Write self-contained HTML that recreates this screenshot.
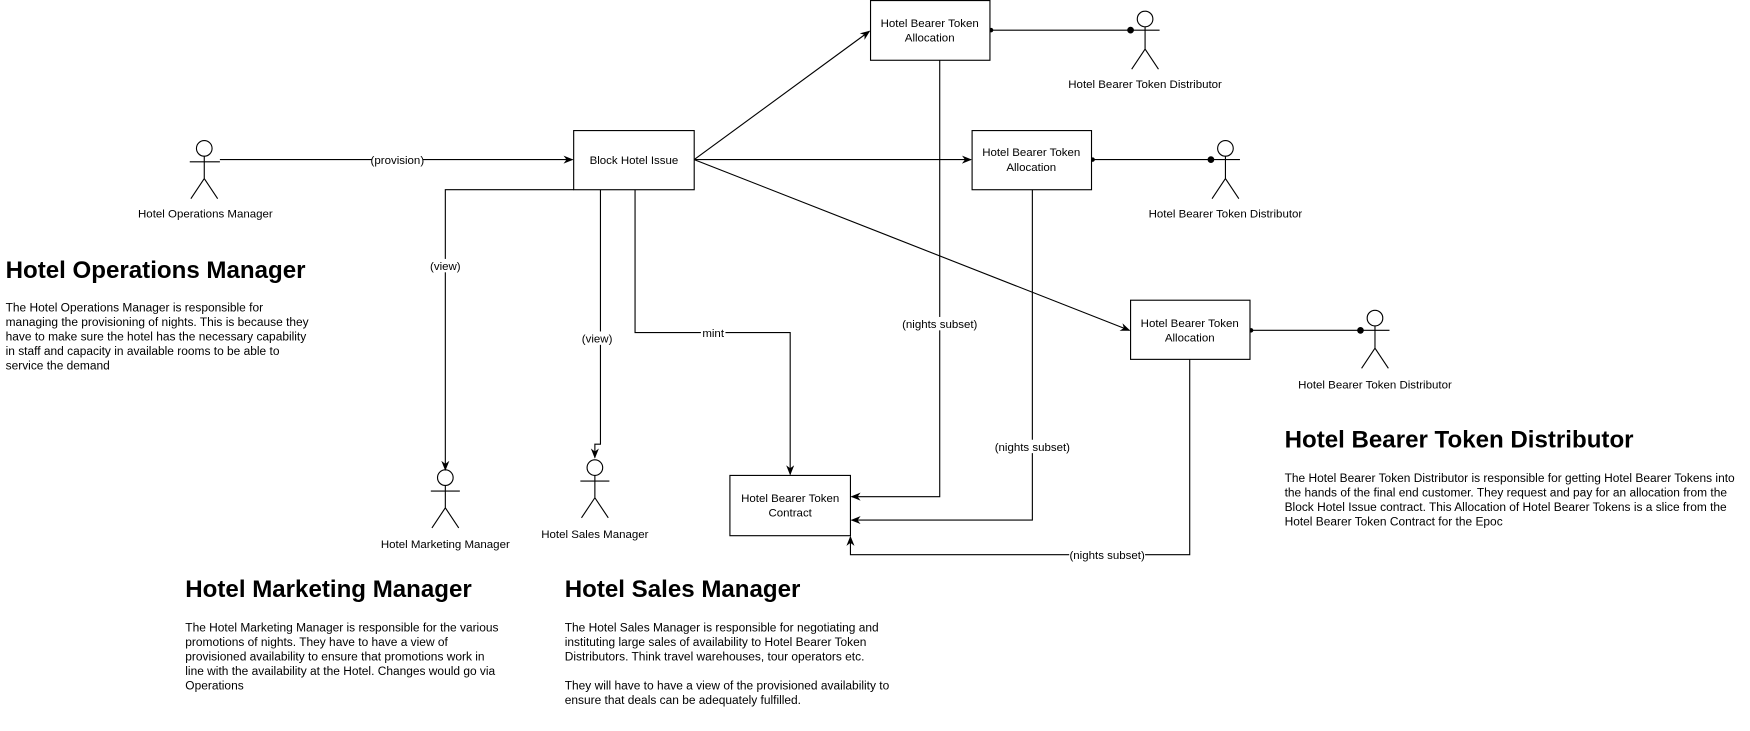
<!DOCTYPE html>
<html><head><meta charset="utf-8"><style>
html,body{margin:0;padding:0;background:#fff;width:1750px;height:731px;overflow:hidden}
svg{display:block}
text{font-family:"Liberation Sans",Arial,sans-serif;fill:#000}
.s{font-size:10.3px}
.h{font-size:21.6px;font-weight:bold}
.b{font-size:10.7px}
</style></head><body>
<svg width="1750" height="731" viewBox="0 0 1568 655" xmlns="http://www.w3.org/2000/svg">
<defs>
<marker id="a" viewBox="0 0 10 10" refX="9" refY="5" markerWidth="9" markerHeight="9" orient="auto-start-reverse" markerUnits="userSpaceOnUse"><path d="M0,1 L10,5 L0,9 L3,5 z" fill="#000"/></marker>
</defs>
<g fill="#fff" stroke="#000" stroke-width="1">
<circle cx="183" cy="133" r="7"/><path d="M183 140V160M170 145H197M183 160L171 178M183 160L195 178" fill="none"/>
<circle cx="1026" cy="17" r="7"/><path d="M1026 24V44M1013 27H1039M1026 44L1014 62M1026 44L1038 62" fill="none"/>
<circle cx="1098" cy="133" r="7"/><path d="M1098 140V160M1085 143H1111M1098 160L1086 178M1098 160L1110 178" fill="none"/>
<circle cx="1232" cy="285" r="7"/><path d="M1232 292V312M1219 296H1245M1232 312L1220 330M1232 312L1244 330" fill="none"/>
<circle cx="399" cy="428" r="7"/><path d="M399 435V455M386 440H412M399 455L387 473M399 455L411 473" fill="none"/>
<circle cx="533" cy="419" r="7"/><path d="M533 426V446M520 431H546M533 446L521 464M533 446L545 464" fill="none"/>
</g>
<g fill="none" stroke="#000" stroke-width="1">
<path d="M197 143H513" marker-end="url(#a)"/>
<path d="M622 143L779 28" marker-end="url(#a)"/>
<path d="M622 143H870" marker-end="url(#a)"/>
<path d="M622 143L1012 296" marker-end="url(#a)"/>
<path d="M514 170H399V421" marker-end="url(#a)"/>
<path d="M538 170V398H533V410" marker-end="url(#a)"/>
<path d="M569 170V298H708V425" marker-end="url(#a)"/>
<path d="M842 54V445H763" marker-end="url(#a)"/>
<path d="M925 170V466H763" marker-end="url(#a)"/>
<path d="M1066 322V497H762V481" marker-end="url(#a)"/>
<path d="M887 27H1013M978 143H1085M1120 296H1219"/>
</g>
<g fill="#000"><circle cx="1013" cy="27" r="3"/><circle cx="1085" cy="143" r="3"/><circle cx="1219" cy="296" r="3"/>
<circle cx="888" cy="27" r="2"/><circle cx="979" cy="143" r="2"/><circle cx="1121" cy="296" r="2"/></g>
<g fill="#fff" stroke="#000">
<rect x="514" y="117" width="108" height="53"/>
<rect x="780" y="0.5" width="107" height="53.5"/>
<rect x="871" y="117" width="107" height="53"/>
<rect x="1013" y="269" width="107" height="53"/>
<rect x="654" y="426" width="108" height="54"/>
</g>
<g fill="#fff">
<rect x="333" y="137" width="46" height="12"/><rect x="385" y="232" width="28" height="12"/><rect x="521" y="297" width="28" height="12"/><rect x="628" y="292" width="22" height="12"/>
<rect x="808" y="284" width="68" height="12"/><rect x="891" y="394" width="68" height="12"/><rect x="958" y="491" width="68" height="12"/>
</g>
<g class="s" text-anchor="middle">
<text x="356" y="147">(provision)</text>
<text x="399" y="242">(view)</text>
<text x="535" y="307">(view)</text>
<text x="639" y="302">mint</text>
<text x="842" y="294">(nights subset)</text>
<text x="925" y="404">(nights subset)</text>
<text x="992" y="501">(nights subset)</text>
<text x="568" y="147">Block Hotel Issue</text>
<text x="833" y="24">Hotel Bearer Token</text><text x="833" y="37">Allocation</text>
<text x="924" y="140">Hotel Bearer Token</text><text x="924" y="153">Allocation</text>
<text x="1066" y="293">Hotel Bearer Token</text><text x="1066" y="306">Allocation</text>
<text x="708" y="450">Hotel Bearer Token</text><text x="708" y="463">Contract</text>
<text x="184" y="195">Hotel Operations Manager</text>
<text x="1026" y="79">Hotel Bearer Token Distributor</text>
<text x="1098" y="195">Hotel Bearer Token Distributor</text>
<text x="1232" y="348">Hotel Bearer Token Distributor</text>
<text x="399" y="491">Hotel Marketing Manager</text>
<text x="533" y="482">Hotel Sales Manager</text>
</g>
<text class="h" x="5" y="249">Hotel Operations Manager</text>
<g class="b"><text x="5" y="279">The Hotel Operations Manager is responsible for</text>
<text x="5" y="292">managing the provisioning of nights. This is because they</text>
<text x="5" y="305">have to make sure the hotel has the necessary capability</text>
<text x="5" y="318">in staff and capacity in available rooms to be able to</text>
<text x="5" y="331">service the demand</text></g>
<text class="h" x="166" y="535">Hotel Marketing Manager</text>
<g class="b"><text x="166" y="566">The Hotel Marketing Manager is responsible for the various</text>
<text x="166" y="579">promotions of nights. They have to have a view of</text>
<text x="166" y="592">provisioned availability to ensure that promotions work in</text>
<text x="166" y="605">line with the availability at the Hotel. Changes would go via</text>
<text x="166" y="618">Operations</text></g>
<text class="h" x="506" y="535">Hotel Sales Manager</text>
<g class="b"><text x="506" y="566">The Hotel Sales Manager is responsible for negotiating and</text>
<text x="506" y="579">instituting large sales of availability to Hotel Bearer Token</text>
<text x="506" y="592">Distributors. Think travel warehouses, tour operators etc.</text>
<text x="506" y="618">They will have to have a view of the provisioned availability to</text>
<text x="506" y="631">ensure that deals can be adequately fulfilled.</text></g>
<text class="h" x="1151" y="401">Hotel Bearer Token Distributor</text>
<g class="b"><text x="1151" y="432">The Hotel Bearer Token Distributor is responsible for getting Hotel Bearer Tokens into</text>
<text x="1151" y="445">the hands of the final end customer. They request and pay for an allocation from the</text>
<text x="1151" y="458">Block Hotel Issue contract. This Allocation of Hotel Bearer Tokens is a slice from the</text>
<text x="1151" y="471">Hotel Bearer Token Contract for the Epoc</text></g>
</svg>
</body></html>
